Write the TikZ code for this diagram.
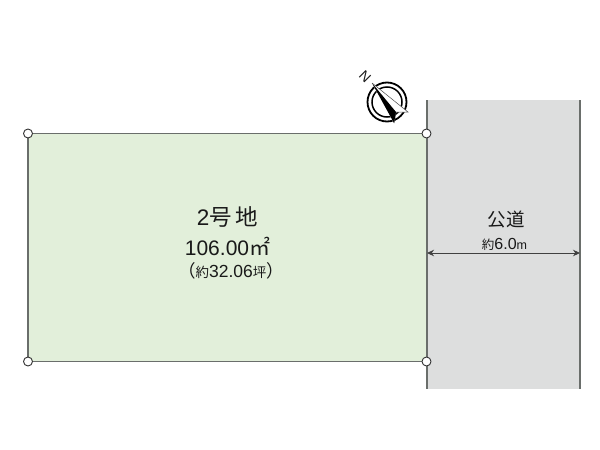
\documentclass[tikz,border=0pt]{standalone}
\usepackage{fontspec}
\setmainfont{Liberation Sans}
\newfontfamily\cjk{Noto Sans CJK JP}
\definecolor{lotfill}{HTML}{E2EFDA}
\definecolor{roadfill}{HTML}{DDDEDE}
\definecolor{edge}{HTML}{6A6E6B}
\tikzset{
 x=1pt,y=-1pt,
 edgeline/.style={draw=edge,line width=1.1pt},
 pin/.style={circle,draw=black!80,fill=white,line width=0.9pt,minimum size=9pt,inner sep=0pt},
 lbl/.style={inner sep=0pt,text=black!90},
 dim/.style={draw=black!75,line width=0.9pt,{Stealth[length=7pt,width=6.5pt]}-{Stealth[length=7pt,width=6.5pt]}}
}
\usetikzlibrary{arrows.meta}
\begin{document}
\begin{tikzpicture}
\useasboundingbox (0,0) rectangle (600,450);
% road
\fill[roadfill] (427,100) rectangle (580,389);
\coordinate (rtl) at (427,100);
\coordinate (rbl) at (427,389);
\coordinate (rtr) at (580,100);
\coordinate (rbr) at (580,389);
\draw[edgeline] (rtl) -- (rbl);
\draw[edgeline] (rtr) -- (rbr);
% lot
\coordinate (a) at (28,133.5);
\coordinate (b) at (426.5,133.5);
\coordinate (c) at (426.5,361.5);
\coordinate (d) at (28,361.5);
\draw[edgeline,fill=lotfill] (a) -- (b) -- (c) -- (d) -- cycle;
\node[pin] (pa) at (a) {};
\node[pin] (pb) at (b) {};
\node[pin] (pc) at (c) {};
\node[pin] (pd) at (d) {};
% labels
\node[lbl,font=\fontsize{22.5}{22}\selectfont] (name) at (227.5,217) {2{\cjk 号}\,{\cjk 地}};
\node[lbl,font=\fontsize{21}{21}\selectfont] (area) at (227.5,246) {106.00{\cjk ㎡}};
\node[lbl,font=\fontsize{17.5}{18}\selectfont] (tsubo) at (231,271) {{\cjk（}{\cjk\fontsize{13.5}{13.5}\selectfont 約}32.06{\cjk\fontsize{13.5}{13.5}\selectfont 坪}{\cjk）}};
\node[lbl,font=\cjk\fontsize{18.5}{19}\selectfont] (road) at (506,220) {公道};
\node[lbl,font=\fontsize{16}{16}\selectfont] (width) at (504.5,244.5) {{\cjk\fontsize{12.5}{12.5}\selectfont 約}6.0{\fontsize{12.5}{12.5}\selectfont m}};
\coordinate (dl) at (427,253);
\coordinate (dr) at (580,253);
\draw[dim] (dl) -- (dr);
% compass
\coordinate (cc) at (387,102);
\draw[black,line width=1.8pt] (cc) circle (19.5);
\draw[black,line width=1.5pt] (cc) circle (15);
\fill[white] (372,83) -- (394,123) -- (396,112) -- (408,112) -- cycle;
\draw[black!70,line width=0.5pt] (372,83) -- (408,112) -- (396,112) -- (394,123);
\fill[black] (372,83) -- (394,123) -- (396,112) -- cycle;
\node[lbl,font=\fontsize{14}{14}\selectfont,rotate=-45] (north) at (365,76.5) {N};
\end{tikzpicture}
\end{document}
